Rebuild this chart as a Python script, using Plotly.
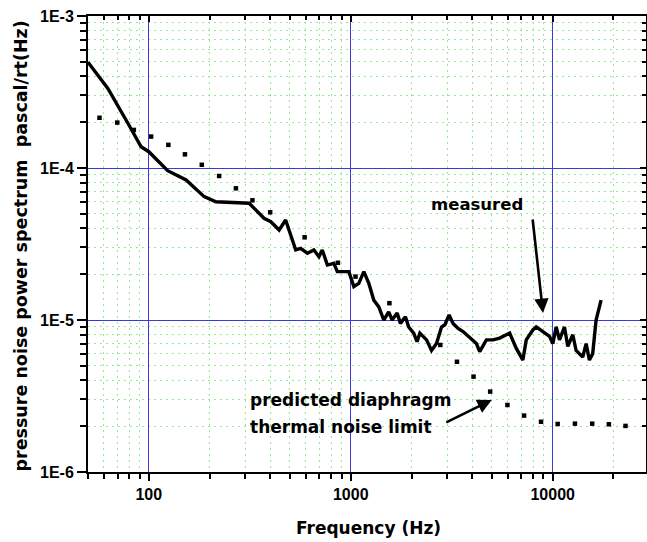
import math
import plotly.graph_objects as go

# ---- data ----
measured_freq = [50, 62.7, 78.8, 91.6, 100, 124, 153, 188, 215, 314,
                 372, 402, 442, 476, 534, 565, 610, 657, 696, 723,
                 766, 825, 858, 979, 1036, 1096, 1161, 1229, 1301, 1377,
                 1457, 1542, 1603, 1697, 1762, 1865, 1936, 2049, 2130,
                 2199, 2373, 2512, 2659, 2815, 2923, 3069, 3211, 3400, 3598,
                 3883, 4191, 4350, 4695, 5061, 5462, 5894, 6119, 6604, 7118,
                 7397, 7977, 8287, 8937, 9643, 10012, 10406, 10805, 11438, 11877,
                 12573, 13062, 14083, 14638, 15197, 15777, 16398, 17360]
measured_val = [4.96e-4, 3.34e-4, 1.97e-4, 1.38e-4, 1.28e-4, 9.6e-5, 8.34e-5, 6.48e-5, 6.0e-5, 5.86e-5,
                4.67e-5, 4.43e-5, 3.91e-5, 4.55e-5, 2.89e-5, 2.96e-5, 2.75e-5, 2.89e-5, 2.61e-5, 2.89e-5,
                2.30e-5, 2.36e-5, 2.08e-5, 2.08e-5, 1.66e-5, 1.74e-5, 2.08e-5, 1.74e-5, 1.35e-5, 1.22e-5,
                1.0e-5, 1.13e-5, 1.0e-5, 1.11e-5, 9.5e-6, 1.05e-5, 9.0e-6, 8.2e-6, 7.2e-6,
                8.2e-6, 7.4e-6, 6.3e-6, 7.0e-6, 9.0e-6, 9.3e-6, 1.08e-5, 9.5e-6, 8.8e-6, 8.4e-6,
                7.6e-6, 7.0e-6, 6.2e-6, 7.4e-6, 7.4e-6, 7.6e-6, 8.0e-6, 8.2e-6, 6.5e-6, 5.45e-6,
                7.4e-6, 8.6e-6, 9.0e-6, 8.4e-6, 7.8e-6, 7.0e-6, 9.0e-6, 7.4e-6, 9.0e-6, 6.7e-6,
                8.0e-6, 6.3e-6, 5.7e-6, 7.0e-6, 5.45e-6, 6.0e-6, 1.0e-5, 1.35e-5]

predicted_freq = [57, 69.8, 84.3, 102.7, 125, 151, 183, 223, 270, 326,
                  399, 591, 864, 1056, 1554, 2776, 3357, 4055, 4902, 5969,
                  7217, 8756, 10585, 12886, 15691, 18967, 22940]
predicted_val = [2.14e-4, 1.99e-4, 1.78e-4, 1.61e-4, 1.42e-4, 1.23e-4, 1.05e-4, 8.86e-5, 7.35e-5, 6.13e-5,
                 5.11e-5, 3.50e-5, 2.38e-5, 1.93e-5, 1.29e-5, 6.85e-6, 5.31e-6, 4.24e-6, 3.38e-6, 2.76e-6,
                 2.35e-6, 2.14e-6, 2.07e-6, 2.08e-6, 2.08e-6, 2.06e-6, 2.01e-6]

x_tickvals = [100, 1000, 10000]
x_ticktext = ["100", "1000", "10000"]
y_tickvals = [1e-6, 1e-5, 1e-4, 1e-3]
y_ticktext = ["1E-6", "1E-5", "1E-4", "1E-3"]

x_minor = [m * 10 ** d for d in (1, 2, 3, 4) for m in range(2, 10) if 50 <= m * 10 ** d <= 30000]
y_minor = [m * 10.0 ** d for d in (-6, -5, -4) for m in range(2, 10)]

x_range = [math.log10(50), 4.462]
y_range = [-6, -3]

TITLE_FONT = dict(family="DejaVu Sans", size=17, color="black", weight="bold")
TICK_FONT = dict(family="Liberation Sans, Arial", size=16, color="black", weight="bold")
BLUE = "#3a3ad6"
GREEN = "rgb(150,232,150)"

fig = go.Figure()
fig.add_trace(go.Scatter(x=measured_freq, y=measured_val, mode="lines",
                         line=dict(color="black", width=3.4), showlegend=False,
                         hoverinfo="skip"))
fig.add_trace(go.Scatter(x=predicted_freq, y=predicted_val, mode="markers",
                         marker=dict(color="black", size=4.5, symbol="square"),
                         showlegend=False, hoverinfo="skip"))
# invisible trace to activate mirrored (inside-tick) axes
fig.add_trace(go.Scatter(x=[100], y=[1e-4], xaxis="x2", yaxis="y2", mode="markers",
                         marker=dict(opacity=0), showlegend=False, hoverinfo="skip"))

common_x = dict(type="log", range=x_range, tickmode="array", tickvals=x_tickvals,
                showline=True, linecolor="black", linewidth=2, zeroline=False,
                tickcolor="black", tickwidth=1.5, automargin=False)
common_y = dict(type="log", range=y_range, tickmode="array", tickvals=y_tickvals,
                showline=True, linecolor="black", linewidth=2, zeroline=False,
                tickcolor="black", tickwidth=1.5, automargin=False)

fig.update_layout(
    width=647, height=542,
    margin=dict(l=88, r=1, t=16, b=70, autoexpand=False),
    plot_bgcolor="white", paper_bgcolor="white",
    xaxis=dict(**common_x, ticktext=x_ticktext, ticks="outside", ticklen=7,
               tickfont=TICK_FONT, showgrid=True, gridcolor=BLUE, gridwidth=1,
               minor=dict(tickmode="array", tickvals=x_minor, ticks="outside", ticklen=5,
                          tickcolor="black", tickwidth=1.5, showgrid=True,
                          gridcolor=GREEN, griddash="2px,4px", gridwidth=1)),
    yaxis=dict(**common_y, ticktext=y_ticktext, ticks="outside", ticklen=9,
               tickfont=TICK_FONT, showgrid=True, gridcolor=BLUE, gridwidth=1,
               minor=dict(tickmode="array", tickvals=y_minor, ticks="outside", ticklen=6,
                          tickcolor="black", tickwidth=1.5, showgrid=True,
                          gridcolor=GREEN, griddash="2px,4px", gridwidth=1)),
    xaxis2=dict(**common_x, overlaying="x", side="top", ticks="inside", ticklen=6,
                showticklabels=False, showgrid=False,
                minor=dict(tickmode="array", tickvals=x_minor, ticks="inside", ticklen=4,
                           tickcolor="black", tickwidth=1.5, showgrid=False)),
    yaxis2=dict(**common_y, overlaying="y", side="right", ticks="inside", ticklen=6,
                showticklabels=False, showgrid=False,
                minor=dict(tickmode="array", tickvals=y_minor, ticks="inside", ticklen=4,
                           tickcolor="black", tickwidth=1.5, showgrid=False)),
)

annotations = [
    dict(text="Frequency (Hz)", xref="paper", yref="paper", x=0.5027, y=-0.1228,
         xanchor="center", yanchor="middle", showarrow=False, font=TITLE_FONT),
    dict(text="pressure noise power spectrum  pascal/rt(Hz)", xref="paper", yref="paper",
         x=-0.1192, y=0.4956, xanchor="center", yanchor="middle", textangle=-90,
         showarrow=False, font=dict(TITLE_FONT, size=17.5)),
    dict(text="measured", xref="x", yref="y", x=3.388, y=-4.243, xanchor="left",
         yanchor="middle", showarrow=False, font=dict(TITLE_FONT, size=16.5)),
    dict(text="predicted diaphragm", xref="x", yref="y", x=2.4889, y=-5.526,
         xanchor="left", yanchor="middle", showarrow=False, font=TITLE_FONT),
    dict(text="thermal noise limit", xref="x", yref="y", x=2.4889, y=-5.702,
         xanchor="left", yanchor="middle", showarrow=False, font=TITLE_FONT),
    dict(text="", xref="x", yref="y", x=3.952, y=-4.954, axref="x", ayref="y",
         ax=3.900, ay=-4.329, showarrow=True, arrowhead=2, arrowsize=1.1,
         arrowwidth=2.6, arrowcolor="black"),
    dict(text="", xref="x", yref="y", x=3.698, y=-5.526, axref="x", ayref="y",
         ax=3.4657, ay=-5.678, showarrow=True, arrowhead=2, arrowsize=1.1,
         arrowwidth=2.6, arrowcolor="black"),
]
fig.update_layout(annotations=annotations)

fig.write_html("out.html", config={"displayModeBar": False},
               post_script="document.body.style.margin='0px';document.body.style.overflow='hidden';")
